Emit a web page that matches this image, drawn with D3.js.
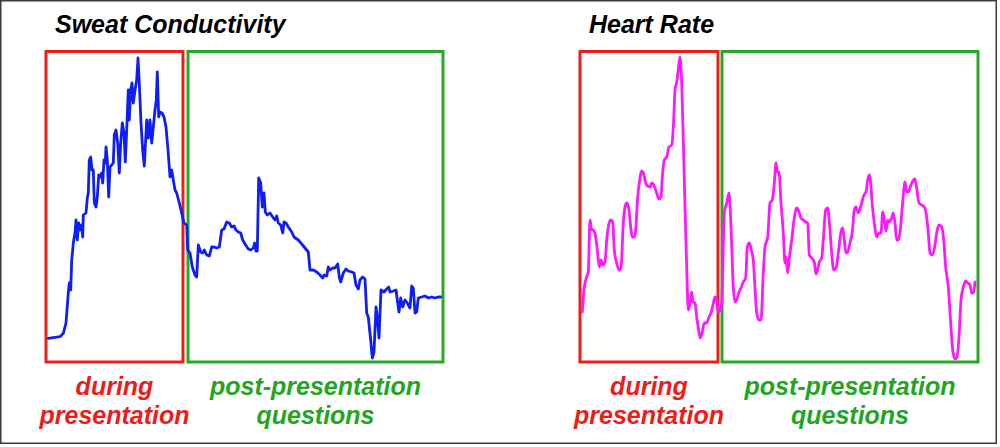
<!DOCTYPE html>
<html>
<head>
<meta charset="utf-8">
<script src="https://cdn.jsdelivr.net/npm/d3@7"></script>
<style>
  html, body { margin: 0; padding: 0; background: #fff; }
  svg { display: block; }
  text { font-family: "Liberation Sans", Arial, sans-serif; font-weight: bold; font-style: italic; }
</style>
</head>
<body>
<svg id="chart" width="1000" height="447"></svg>
<script>
// ---- data ----
const panelTitles = ["Sweat Conductivity", "Heart Rate"];
const phaseLabels = [["during", "presentation"], ["post-presentation", "questions"]];

const sweatT = [2.3,14,17.3,20,22.3,23.3,24.7,25.7,26.7,27.3,29,30,31.3,32.7,34,35.7,36.7,37.3,40,41.3,42.3,43.3,44.7,46,47.3,48.3,50,51.3,52.7,54,55.7,56.7,58,59.3,60,61.3,62.7,64,65.7,67.3,68.3,70,71.7,73.3,74.7,76.3,78,79.3,80.7,82.3,83.3,84.7,86,87.3,89,90.7,92,93.3,95,96.7,98.3,99.3,100.7,102.3,104,105.7,107.3,109,110.3,111.3,112.7,114,116,118,120,122,124,125.7,127.3,129,130.7,133.3,135.7,138,140.7,141.7,144,146.3,149,150.7,152.3,154.7,156.7,158.3,160.7,163.3,165.7,168,170.7,173.3,175.7,178,180.7,183.3,185.7,188,190,192.3,194.7,196.7,199,202.3,204.7,207.3,208.7,210,211.3,212.7,214.7,216.3,218,219.3,221.3,224,226.7,229,230.7,232.3,234.7,236.7,238,240,242.3,245.7,248,252.3,255.7,259,262.3,264,267.3,270.7,274,276.7,278.3,280.7,282.3,284,286.7,289,291.7,293.3,294.7,297.3,300,302.3,305.7,308,310,312.3,314,316.7,319,320.7,322.3,324.7,326.3,328,330,331.3,333,335,338,340.7,342.7,344,347.3,350,351.3,353,354.7,356.7,359,361.3,364,365.7,367.3,369,370.7,372.3,375.7,379,382.3,385.7,389,392.3,394.7];
const sweatV = [23.7,25.3,28.7,39,69,79,72,102,112,119,129,142,122,139,132,137,125,147,149,164,169,202,205,192,192,159,155,165,187,185,189,179,202,199,215,202,165,195,197,199,227,232,219,189,219,239,229,200,232,272,242,272,279,259,272,282,304,279,239,212,196,215,242,224,242,219,235,252,262,290,245,250,249,245,235,212,185,192,182,172,169,159,149,139,137,112,109,95,87,85,117,110,109,112,107,106,115,115,114,115,132,133,140,139,135,136,132,130,129,122,118,113,112,114,119,111,111,184,179,155,169,150,147,149,145,142,146,139,137,129,140,139,135,130,125,122,118,114,110,92,92,90,87,84,87,86,95,92,94,94,98,85,80,89,93,91,90,89,77,73,82,85,83,49,45,22,4,10,55,45,24,72,70,73,75,70,71,72,62,50,64,55,62,59,54,76,74,49,50,64,65,66,64,65,64,65,65];

const heartT = [2.3,4.3,6.7,8.3,10,11.7,13.3,15.7,17.7,19.3,21,22.7,25,26.7,28.3,30.7,32.7,34.3,36.7,39,41,43.3,45,46.7,49,51,52.3,54.3,55.7,57.7,59.3,61.7,64,65.7,67.7,70,71.7,73.3,75,76.7,79,81,82.3,84.3,86.7,89,91.7,93.7,95,96.7,98.3,100,101.7,103.3,105,106.7,108.3,110,111.7,113,115,116.7,118.3,120.3,122.3,124.3,126.7,129,131,133,135,136.7,138.3,140,141.7,144.3,146.7,149,151,153.3,155,156.7,159,161,163.3,165.7,167.3,169.3,171.7,173.3,175,176.7,179,181,183.3,185,187.7,190,192.3,194.3,196,197.3,199,201,203.3,205,206,207.7,209.3,211.7,214,216.7,219,221,223.3,225.7,227.7,229.3,231.7,234.3,236,237.7,239.3,241.7,243.3,245.7,247.7,249.7,251.7,253.7,256,258.3,261,262.7,264.3,266,267.7,270,272.3,274.3,276,278.3,280.3,281.7,284,286,287.7,289.3,291,292.3,294.3,296.7,299,301,302.7,304.3,306,307.7,309.3,311.7,313.3,315,316.7,318.3,320.3,322.7,325,326.7,328.3,330,332.3,335,336.7,339,341.7,344.3,346.7,348.3,350,352.3,355,356.7,359,361.7,363.7,365.7,368.3,370.7,372.7,375,376.7,379,381,383.3,385.7,387.7,390,391.7,393.3,395];
const heartV = [50,75,85,90,142,132,132,125,109,95,102,97,100,122,135,142,140,112,99,92,94,139,155,159,152,132,125,125,132,165,179,191,187,179,176,175,179,178,174,169,163,165,185,202,205,215,217,242,272,280,292,305,279,222,155,95,52,59,70,60,59,45,34,24,30,39,39,45,49,57,65,62,50,52,59,149,159,169,135,75,60,62,70,74,80,84,115,119,110,102,74,49,42,42,89,115,125,159,162,179,199,190,190,159,129,99,105,89,104,122,142,154,150,144,142,140,139,107,104,100,88,92,100,104,122,152,154,135,109,92,94,109,130,134,122,109,110,119,130,152,155,149,154,159,167,170,182,187,175,157,139,125,129,129,150,142,131,142,140,144,149,139,122,122,132,160,180,170,170,174,180,183,174,159,157,155,145,129,109,107,117,129,137,135,122,95,75,39,12,3,4,25,62,75,81,79,77,69,69,80];

// phase boundaries (time units) for each panel
const sweatPhaseStart = [0, 142];
const sweatPhaseEnd = [137, 397];
const heartPhaseStart = [0, 142];
const heartPhaseEnd = [138, 398];

// ---- drawing ----
const svg = d3.select("#chart");
svg.append("rect").attr("x", 0.75).attr("y", 0.75).attr("width", 995.5).attr("height", 442.5)
  .attr("fill", "#fff").attr("stroke", "#3a3a3a").attr("stroke-width", 1.5);

const phaseColors = ["#e8201c", "#27a827"];
const textColors = ["#ee1b1b", "#22a622"];

const panels = [
  { title: panelTitles[0], t: sweatT, v: sweatV, ps: sweatPhaseStart, pe: sweatPhaseEnd,
    xr: [46, 443], dom: [0, 397], color: "#0f1ef5", curve: d3.curveLinear, titleX: 55 },
  { title: panelTitles[1], t: heartT, v: heartV, ps: heartPhaseStart, pe: heartPhaseEnd,
    xr: [580, 978], dom: [0, 398], color: "#ff18ff", curve: d3.curveMonotoneX, titleX: 589 }
];

const y = d3.scaleLinear().domain([0, 310]).range([362, 52]);

panels.forEach(p => {
  const x = d3.scaleLinear().domain(p.dom).range(p.xr);
  const g = svg.append("g");

  g.append("text").attr("x", p.titleX).attr("y", 33)
    .attr("font-size", 25).attr("fill", "#000").text(p.title);

  p.ps.forEach((s, i) => {
    g.append("rect")
      .attr("x", x(s)).attr("y", y(310) - 0.5)
      .attr("width", x(p.pe[i]) - x(s)).attr("height", y(0) - y(310) + 0.5)
      .attr("fill", "none").attr("stroke", phaseColors[i]).attr("stroke-width", 3);
    const cx = (x(s) + x(p.pe[i])) / 2;
    const t = g.append("text").attr("text-anchor", "middle").attr("font-size", 25)
      .attr("fill", textColors[i]);
    t.append("tspan").attr("x", cx).attr("y", 395).text(phaseLabels[i][0]);
    t.append("tspan").attr("x", cx).attr("y", 424).text(phaseLabels[i][1]);
  });

  const pts = p.t.map((d, i) => [d, p.v[i]]);
  const line = d3.line().x(d => x(d[0])).y(d => y(d[1])).curve(p.curve);
  g.append("path").datum(pts).attr("d", line)
    .attr("fill", "none").attr("stroke", p.color).attr("stroke-width", 2.8)
    .attr("stroke-linejoin", "round").attr("stroke-linecap", "round");
});
</script>
</body>
</html>
